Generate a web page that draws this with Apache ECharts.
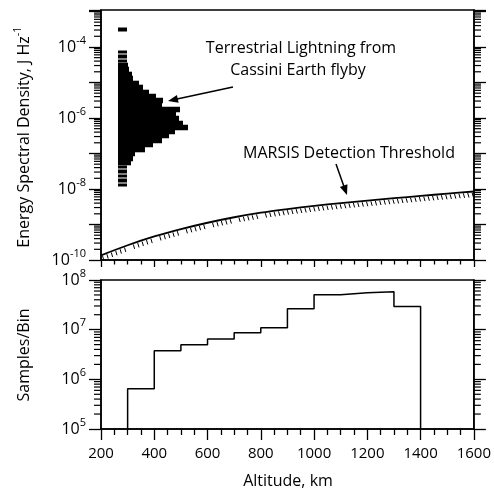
<!DOCTYPE html>
<html><head><meta charset="utf-8">
<script src="https://cdn.jsdelivr.net/npm/echarts@6/dist/echarts.min.js"></script>
<style>html,body{margin:0;padding:0;background:#fff}#c{width:494px;height:490px}</style>
</head><body><div id="c"></div>
<script>
// ---------- data ----------
// Bottom panel: samples per 100-km altitude bin
const histBinStartKm = [300, 400, 500, 600, 700, 800, 900, 1000, 1100, 1200, 1300];
const histBinWidthKm = 100;
const samplesPerBin = [6.5e5, 3.76e6, 4.97e6, 6.47e6, 8.67e6, 1.09e7, 2.63e7, 5.04e7, 5.52e7, 5.78e7, 2.94e7];

// MARSIS detection threshold (energy spectral density, J/Hz) vs altitude
const thresholdAltKm = [200, 300, 400, 500, 600, 700, 800, 900, 1000, 1100, 1200, 1300, 1400, 1500, 1600];
const thresholdESD = [1.35e-10, 2.6e-10, 4.6e-10, 7.4e-10, 1.12e-9, 1.6e-9, 2.15e-9, 2.72e-9, 3.35e-9, 4.0e-9, 4.7e-9, 5.5e-9, 6.4e-9, 7.4e-9, 8.5e-9];

// Terrestrial lightning histogram (Cassini Earth flyby), drawn as horizontal bars
const lightningLogBinLow = -7.95;      // log10 of lowest bin edge
const lightningLogBinWidth = 0.125;    // bin width in decades
const lightningBaseKm = 263;           // bar baseline on the altitude axis
const lightningBarRightKm = [298, 298, 298, 298, 298, 311.5, 320, 327.5, 365, 395, 429, 455, 478, 527, 508, 493, 481, 496, 429, 433, 406, 380, 356, 344, 320, 316, 305, 300, 298, 298, 298, null, null, null, null, 298];

// Axis ticks
const altitudeTicks = [200, 400, 600, 800, 1000, 1200, 1400, 1600];
const esdDecades = [-10, -9, -8, -7, -6, -5, -4, -3];
const esdLabelExps = [-10, -8, -6, -4];
const sampleDecades = [5, 6, 7, 8];

// ---------- chart ----------
const FONT = 'Open Sans';
const chart = echarts.init(document.getElementById('c'), null, {renderer: 'canvas'});

const ESD_MIN = 1e-10, ESD_MAX = 1.1e-3, S_MIN = 1e5, S_MAX = 1e8;

function minorVals(decs, max) {
  const out = [];
  decs.forEach(n => { for (let k = 2; k <= 9; k++) { const v = k * Math.pow(10, n); if (v < max) out.push([altitudeTicks[0], v]); } });
  return out;
}

const supRich = {
  b: {fontSize: 16, fontFamily: FONT, color: '#000', lineHeight: 16, padding: [4, 0, 4, 0]},
  s: {fontSize: 11, fontFamily: FONT, color: '#000', lineHeight: 11, padding: [0, 0, 13, 0]}
};
function powLabel(allowed) {
  return function (v) {
    const l = Math.log10(v), e = Math.round(l);
    if (Math.abs(l - e) > 1e-6 || allowed.indexOf(e) < 0) return '';
    return '{b|10}{s|' + e + '}';
  };
}

const axisLineStyle = {color: '#000', width: 1.5};
function xAxisDef(gi, labels, tickLen, minorLen) {
  return {
    gridIndex: gi, type: 'value', min: altitudeTicks[0], max: altitudeTicks[altitudeTicks.length - 1],
    interval: altitudeTicks[1] - altitudeTicks[0],
    axisLine: {show: true, onZero: false, lineStyle: axisLineStyle},
    axisTick: {show: true, inside: false, length: tickLen, lineStyle: {color: '#000', width: 1.3}},
    minorTick: {show: true, splitNumber: 4, length: minorLen, lineStyle: {color: '#000', width: 1.3}},
    splitLine: {show: false}, minorSplitLine: {show: false},
    axisLabel: {show: labels, color: '#000', fontSize: 15, fontFamily: FONT, margin: 17, formatter: v => String(v)}
  };
}
function yAxisDef(gi, pos, min, max, labelFn) {
  return {
    gridIndex: gi, type: 'log', logBase: 10, min: min, max: max, position: pos, splitNumber: 10,
    axisLine: {show: true, lineStyle: axisLineStyle},
    axisTick: {show: true, inside: false, length: 12, lineStyle: {color: '#000', width: 1.3}},
    splitLine: {show: false},
    axisLabel: labelFn ? {show: true, formatter: labelFn, margin: 15, rich: supRich} : {show: false}
  };
}

function minorTickSeries(xi, yi, data) {
  return {
    type: 'custom', xAxisIndex: xi, yAxisIndex: yi, clip: false, silent: true,
    encode: {x: 0, y: 1}, data: data,
    renderItem: function (params, api) {
      const cs = params.coordSys;
      const y = api.coord([api.value(0), api.value(1)])[1];
      const st = {stroke: '#000', lineWidth: 1.2};
      return {type: 'group', children: [
        {type: 'line', shape: {x1: cs.x - 7, y1: y, x2: cs.x, y2: y}, style: st},
        {type: 'line', shape: {x1: cs.x + cs.width, y1: y, x2: cs.x + cs.width + 7, y2: y}, style: st}
      ]};
    }
  };
}

// lightning bars
const lightData = [];
const minBar = Math.min.apply(null, lightningBarRightKm.filter(v => v != null));
lightningBarRightKm.forEach((r, i) => {
  if (r == null) return;
  const lo = Math.pow(10, lightningLogBinLow + i * lightningLogBinWidth);
  const hi = Math.pow(10, lightningLogBinLow + (i + 1) * lightningLogBinWidth);
  lightData.push([r, lo, hi]);
});

// histogram step line
const histLine = [[histBinStartKm[0], S_MIN]];
histBinStartKm.forEach((x, i) => histLine.push([x, samplesPerBin[i]]));
const lastX = histBinStartKm[histBinStartKm.length - 1] + histBinWidthKm;
histLine.push([lastX, samplesPerBin[samplesPerBin.length - 1]]);
histLine.push([lastX, S_MIN]);

const thrData = thresholdAltKm.map((x, i) => [x, thresholdESD[i]]);

const option = {
  animation: false,
  backgroundColor: '#fff',
  grid: [
    {left: 101, right: 20, top: 10, height: 250, show: true, borderColor: '#000', borderWidth: 1.5, backgroundColor: 'transparent'},
    {left: 101, right: 20, top: 280, height: 149, show: true, borderColor: '#000', borderWidth: 1.5, backgroundColor: 'transparent'}
  ],
  xAxis: [xAxisDef(0, false, 7, 4.5), xAxisDef(1, true, 11, 6)],
  yAxis: [
    yAxisDef(0, 'left', ESD_MIN, ESD_MAX, powLabel(esdLabelExps)),
    yAxisDef(0, 'right', ESD_MIN, ESD_MAX, null),
    yAxisDef(1, 'left', S_MIN, S_MAX, powLabel(sampleDecades)),
    yAxisDef(1, 'right', S_MIN, S_MAX, null)
  ],
  series: [
    {
      type: 'custom', xAxisIndex: 0, yAxisIndex: 0, encode: {x: 0, y: 1}, data: lightData,
      renderItem: function (params, api) {
        const r = api.value(0), lo = api.value(1), hi = api.value(2);
        const p0 = api.coord([lightningBaseKm, hi]);
        const p1 = api.coord([r, lo]);
        const iso = r === minBar;
        const x0 = Math.round(p0[0]), x1 = Math.round(p1[0]);
        const y0 = Math.round(p0[1]), y1 = Math.round(p1[1]);
        if (iso) {
          return {type: 'rect', shape: {x: x0, y: y0 + 0.5, width: x1 - x0, height: y1 - y0 - 1}, style: {fill: '#000'}};
        }
        return {type: 'rect', shape: {x: x0, y: y0 - 0.3, width: x1 - x0, height: y1 - y0 + 0.6}, style: {fill: '#000'}};
      }
    },
    {
      type: 'line', xAxisIndex: 0, yAxisIndex: 0, data: thrData, smooth: 0.3, showSymbol: false,
      lineStyle: {color: '#000', width: 1.8}, clip: false
    },
    {
      // hatching below the threshold curve
      type: 'custom', xAxisIndex: 0, yAxisIndex: 0, encode: {x: 0, y: 1},
      data: thrData.slice(0, -1).map((p, i) => [p[0], p[1], thrData[i + 1][0], thrData[i + 1][1]]),
      renderItem: function (params, api) {
        const a = api.coord([api.value(0), api.value(1)]);
        const b = api.coord([api.value(2), api.value(3)]);
        const x0 = params.coordSys.x, step = 4.4;
        const children = [];
        let x = x0 + Math.ceil((a[0] - x0) / step) * step + 1.5;
        for (; x < b[0] && x < params.coordSys.x + params.coordSys.width - 1; x += step) {
          const y = a[1] + (b[1] - a[1]) * (x - a[0]) / (b[0] - a[0]);
          children.push({type: 'line', shape: {x1: x, y1: y + 1, x2: x + 1.3, y2: y + 5.5}, style: {stroke: '#000', lineWidth: 1}});
        }
        return {type: 'group', children: children};
      }
    },
    minorTickSeries(0, 0, minorVals(esdDecades, ESD_MAX)),
    {
      type: 'line', xAxisIndex: 1, yAxisIndex: 2, data: histLine, step: 'end', showSymbol: false,
      lineStyle: {color: '#000', width: 1.5}, clip: false
    },
    minorTickSeries(1, 2, minorVals(sampleDecades.slice(0, -1), S_MAX))
  ]
};
chart.setOption(option);

// ---------- annotations ----------
function arrow(x0, y0, x1, y1) {
  const dx = x1 - x0, dy = y1 - y0, L = Math.hypot(dx, dy), ux = dx / L, uy = dy / L;
  const hl = 10, hw = 4;
  const bx = x1 - ux * hl, by = y1 - uy * hl;
  return [
    {type: 'line', shape: {x1: x0, y1: y0, x2: bx + ux * 2, y2: by + uy * 2}, style: {stroke: '#000', lineWidth: 1.5}},
    {type: 'polygon', shape: {points: [[x1, y1], [bx - uy * hw, by + ux * hw], [bx + uy * hw, by - ux * hw]]}, style: {fill: '#000'}}
  ];
}
const txt = (x, y, text, rot, rich) => ({
  type: 'text', x: x, y: y, rotation: rot || 0,
  style: {text: text, fill: '#000', fontSize: 16, fontFamily: FONT, align: 'center', verticalAlign: 'middle', rich: rich}
});
const nameRich = {
  a: {fontSize: 16, fontFamily: FONT, color: '#000', lineHeight: 16, padding: [4, 0, 4, 0]},
  s: {fontSize: 11, fontFamily: FONT, color: '#000', lineHeight: 11, padding: [0, 0, 13, 0]}
};
chart.setOption({
  graphic: [
    txt(301, 48, 'Terrestrial Lightning from'),
    txt(298, 70, 'Cassini Earth flyby'),
    txt(349, 153, 'MARSIS Detection Threshold'),
    txt(24, 137, '{a|Energy Spectral Density, J Hz}{s|-1}', Math.PI / 2, nameRich),
    txt(24, 355, 'Samples/Bin', Math.PI / 2),
    txt(288, 481, 'Altitude, km')
  ].concat(arrow(233, 87, 168, 101), arrow(336, 164, 347, 195))
});
</script></body></html>
